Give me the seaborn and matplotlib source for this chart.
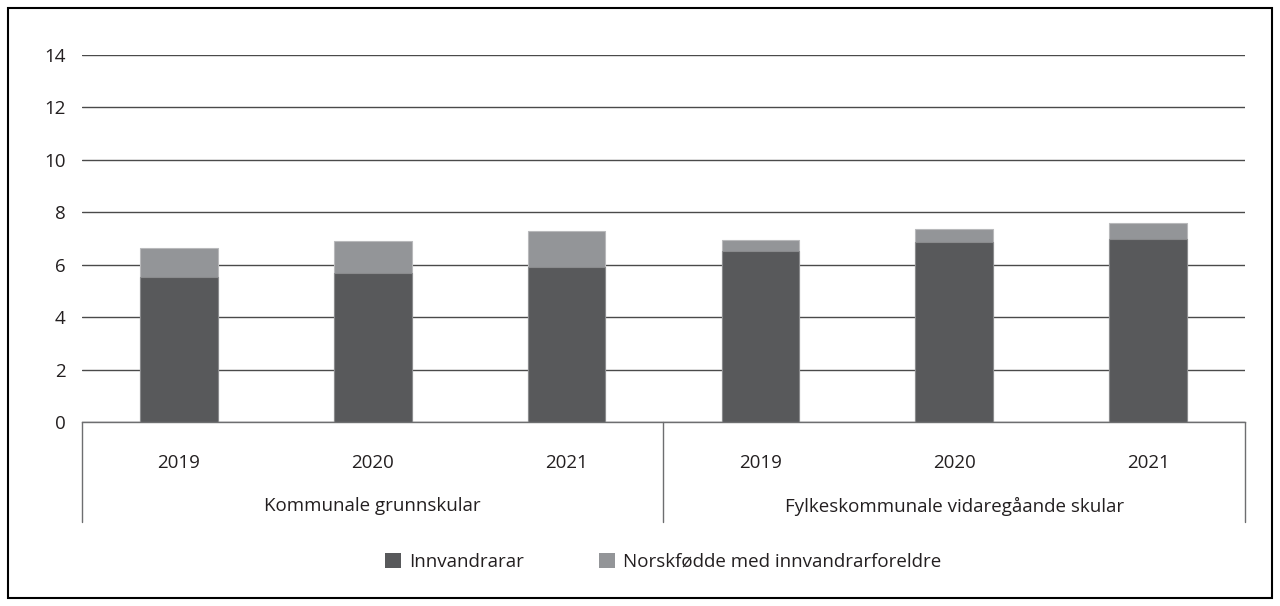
import pandas as pd
import seaborn as sns
import matplotlib.pyplot as plt
from matplotlib.patches import Rectangle, Patch
import matplotlib.transforms as mtransforms

groups = ["Kommunale grunnskular", "Fylkeskommunale vidaregåande skular"]
years = ["2019", "2020", "2021"]
innvandrarar = [5.55, 5.70, 5.90, 6.53, 6.87, 6.98]
norskfodde = [1.07, 1.19, 1.39, 0.41, 0.51, 0.60]
series_names = ["Innvandrarar", "Norskfødde med innvandrarforeldre"]

dark = "#58595b"
light = "#939598"
txt = "#231f20"
fs = 13.5

rows = []
for i, g in enumerate(groups):
    for j, y in enumerate(years):
        k = i * len(years) + j
        rows.append({"key": f"{g} {y}", "group": g, "year": y,
                     "inn": innvandrarar[k], "total": innvandrarar[k] + norskfodde[k]})
df = pd.DataFrame(rows)

sns.set_style("white")
plt.rcParams["font.family"] = ["Open Sans", "DejaVu Sans"]

fig = plt.figure(figsize=(12.8, 6.06), dpi=100)
ax = fig.add_axes([82 / 1280, 1 - 422 / 606, (1245 - 82) / 1280, (422 - 55) / 606])

# total first (light), then the immigrant part on top of it (dark)
sns.barplot(data=df, x="key", y="total", color=light, width=0.4,
            edgecolor="#b8b9bb", linewidth=0.8, ax=ax, saturation=1)
sns.barplot(data=df, x="key", y="inn", color=dark, width=0.4,
            edgecolor="#8a8b8d", linewidth=0.8, ax=ax, saturation=1)

ax.set_ylim(0, 14)
ax.set_xlim(-0.5, 5.5)
ax.set_yticks(range(0, 15, 2))
ax.yaxis.grid(True, color="#4a4a4a", linewidth=1.0)
ax.set_axisbelow(True)
for s in ["top", "right", "left"]:
    ax.spines[s].set_visible(False)
ax.spines["bottom"].set_color("#6d6e70")
ax.spines["bottom"].set_linewidth(1.0)
ax.set_xlabel("")
ax.set_ylabel("")
ax.tick_params(axis="y", length=0, pad=12, labelsize=fs, labelcolor=txt)
ax.set_xticks(range(6))
ax.set_xticklabels(years * 2)
ax.tick_params(axis="x", length=0, pad=23, labelsize=fs, labelcolor=txt)

trans = mtransforms.blended_transform_factory(ax.transData, ax.transAxes)
for xv in [-0.5, 2.5, 5.5]:
    ax.plot([xv, xv], [0, -0.272], transform=trans, color="#6d6e70",
            linewidth=1.0, clip_on=False)
for i, g in enumerate(groups):
    ax.text(i * 3 + 1, -0.229, g, transform=trans, ha="center", va="center",
            fontsize=fs, color=txt)

handles = [Patch(facecolor=dark, edgecolor="none"),
           Patch(facecolor=light, edgecolor="none")]
leg = fig.legend(handles, series_names, loc="center", bbox_to_anchor=(663 / 1280, 1 - 562 / 606),
                 ncol=2, frameon=False, fontsize=fs, handlelength=0.85, handleheight=0.85,
                 handletextpad=0.45, columnspacing=4.0)
for t in leg.get_texts():
    t.set_color(txt)

fig.patches.append(Rectangle((8 / 1280, 8 / 606), 1264 / 1280, 590 / 606,
                             transform=fig.transFigure, fill=False,
                             edgecolor="black", linewidth=1.5))

fig.savefig("out.png", dpi=100)
